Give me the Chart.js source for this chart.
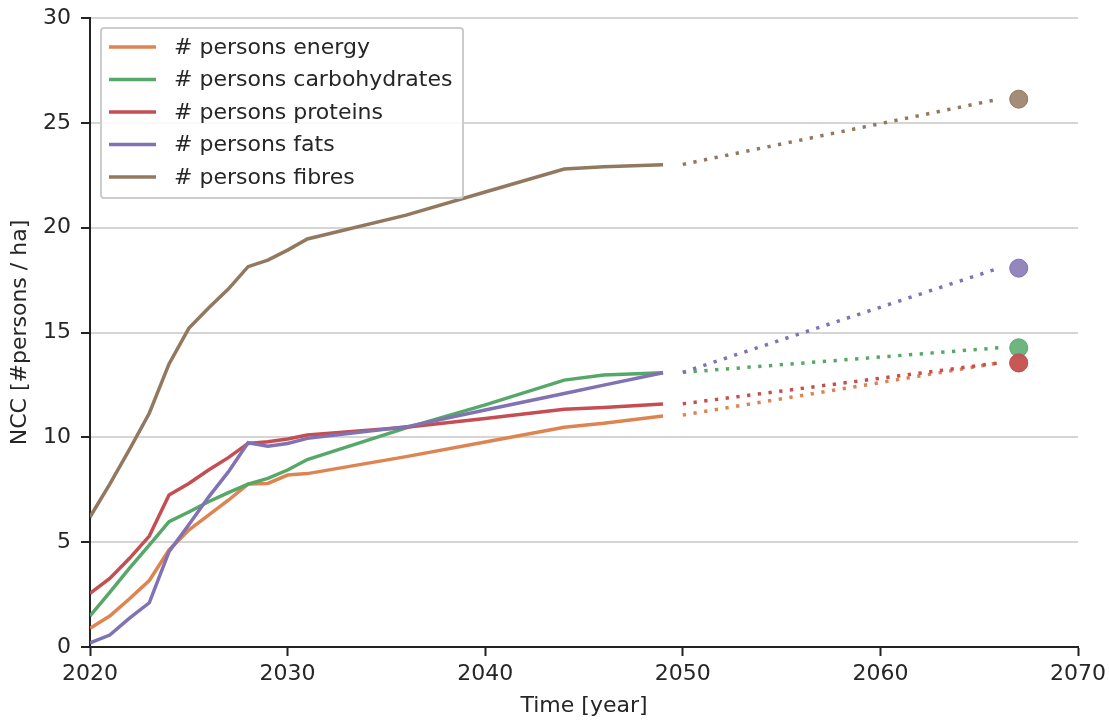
<!DOCTYPE html>
<html>
<head>
<meta charset="utf-8">
<script src="https://cdn.jsdelivr.net/npm/chart.js@4/dist/chart.umd.min.js"></script>
<style>
  html, body { margin: 0; padding: 0; background: #fff; }
  #wrap { width: 1109px; height: 720px; }
</style>
</head>
<body>
<div id="wrap"><canvas id="chart1" width="1109" height="720"></canvas></div>
<script>
// observed years (solid lines)
const years = [2020, 2021, 2022, 2023, 2024, 2025, 2026, 2027, 2028, 2029, 2030, 2031, 2036, 2040, 2044, 2046, 2049];

const energy   = [0.89, 1.48, 2.30, 3.17, 4.63, 5.58, 6.29, 7.00, 7.77, 7.80, 8.20, 8.27, 9.08, 9.78, 10.48, 10.67, 11.02];
const carbs    = [1.48, 2.60, 3.76, 4.86, 5.98, 6.44, 6.93, 7.36, 7.77, 8.04, 8.44, 8.94, 10.45, 11.55, 12.73, 12.97, 13.08];
const proteins = [2.56, 3.27, 4.23, 5.29, 7.25, 7.80, 8.44, 9.03, 9.71, 9.79, 9.92, 10.11, 10.48, 10.90, 11.34, 11.42, 11.59];
const fats     = [0.20, 0.57, 1.38, 2.11, 4.55, 5.83, 7.15, 8.35, 9.74, 9.58, 9.71, 9.95, 10.50, 11.30, 12.09, 12.49, 13.08];
const fibres   = [6.20, 7.77, 9.43, 11.15, 13.50, 15.20, 16.17, 17.07, 18.14, 18.45, 18.93, 19.46, 20.60, 21.70, 22.80, 22.90, 23.00];

// projection (dotted) and end markers
const projYears = [2050, 2066];
const projEnergy   = [11.06, 13.55];
const projCarbs    = [13.10, 14.27];
const projProteins = [11.60, 13.55];
const projFats     = [13.10, 18.07];
const projFibres   = [23.02, 26.13];

const markerYear = 2067;
const markerValues = [13.55, 14.27, 13.55, 18.07, 26.13];

const labels = ['# persons energy', '# persons carbohydrates', '# persons proteins', '# persons fats', '# persons fibres'];
const colors = ['#DD8452', '#55A868', '#C44E52', '#8172B3', '#937860'];
const markerColors = ['rgba(221,132,82,0.85)', 'rgba(85,168,104,0.85)', 'rgba(196,78,82,0.85)', 'rgba(129,114,179,0.85)', 'rgba(147,120,96,0.85)'];

const series = [energy, carbs, proteins, fats, fibres];
const projSeries = [projEnergy, projCarbs, projProteins, projFats, projFibres];

const FONT = 'DejaVu Sans';
const TEXT = '#262626';

function pts(xs, ys) {
  return xs.map((x, i) => ({ x: x, y: ys[i] }));
}

const datasets = [];
series.forEach((s, i) => {
  datasets.push({
    label: labels[i],
    data: pts(years, s),
    borderColor: colors[i],
    borderWidth: 3.5,
    pointRadius: 0,
    fill: false,
    tension: 0,
    inLegend: true,
    order: 50 - i
  });
});
projSeries.forEach((s, i) => {
  datasets.push({
    label: labels[i] + ' (projection)',
    data: pts(projYears, s),
    borderColor: colors[i],
    borderWidth: 3.5,
    borderDash: [3.3, 7.5],
    borderCapStyle: 'butt',
    pointRadius: 0,
    fill: false,
    order: 40 - i
  });
});
markerValues.forEach((v, i) => {
  datasets.push({
    label: labels[i] + ' (marker)',
    data: [{ x: markerYear, y: v }],
    showLine: false,
    pointRadius: 9,
    pointBorderWidth: 1,
    pointBackgroundColor: markerColors[i],
    pointBorderColor: colors[i],
    order: 30 - i
  });
});

// legend drawn inside the plot, matplotlib style
const insideLegend = {
  id: 'insideLegend',
  afterDraw(chart) {
    const ctx = chart.ctx;
    const x0 = 101, y0 = 28, w = 362, h = 170;
    ctx.save();
    ctx.fillStyle = 'rgba(255,255,255,0.85)';
    ctx.strokeStyle = '#cccccc';
    ctx.lineWidth = 2;
    ctx.beginPath();
    ctx.roundRect(x0, y0, w, h, 3);
    ctx.fill();
    ctx.stroke();
    const items = chart.data.datasets.filter(d => d.inLegend);
    ctx.font = '22px "' + FONT + '"';
    ctx.textBaseline = 'middle';
    ctx.textAlign = 'left';
    items.forEach((d, i) => {
      const y = 47 + i * 32.5;
      ctx.strokeStyle = d.borderColor;
      ctx.lineWidth = 3.5;
      ctx.beginPath();
      ctx.moveTo(109, y);
      ctx.lineTo(156, y);
      ctx.stroke();
      ctx.fillStyle = TEXT;
      ctx.fillText(d.label, 174, y + 1);
    });
    ctx.restore();
  }
};

const ctx1 = document.getElementById('chart1').getContext('2d');
const myChart1 = new Chart(ctx1, {
  type: 'line',
  data: { datasets: datasets },
  options: {
    responsive: false,
    animation: false,
    layout: { padding: { left: 0, top: 18, right: 31, bottom: 0 } },
    plugins: {
      legend: { display: false },
      tooltip: { enabled: false }
    },
    scales: {
      x: {
        type: 'linear',
        min: 2020,
        max: 2070,
        afterFit: (s) => { s.height = 73; s.paddingLeft = 0; s.paddingRight = 0; },
        ticks: {
          stepSize: 10,
          color: TEXT,
          padding: 5,
          font: { family: FONT, size: 22 },
          callback: (v) => String(v)
        },
        grid: {
          drawOnChartArea: false,
          drawTicks: true,
          tickLength: 9,
          tickColor: '#222',
          tickWidth: 2
        },
        border: { color: '#222', width: 2 },
        title: {
          display: true,
          text: 'Time [year]',
          color: TEXT,
          font: { family: FONT, size: 22 },
          padding: { top: 0, bottom: 1 }
        }
      },
      y: {
        min: 0,
        max: 30,
        afterFit: (s) => { s.width = 90; s.paddingTop = 0; s.paddingBottom = 0; },
        ticks: {
          stepSize: 5,
          color: TEXT,
          padding: 10,
          font: { family: FONT, size: 22 }
        },
        grid: {
          color: '#d5d5d5',
          lineWidth: 2,
          tickLength: 9,
          tickColor: '#222',
          tickWidth: 2
        },
        border: { color: '#222', width: 2 },
        title: {
          display: true,
          text: 'NCC [#persons / ha]',
          color: TEXT,
          font: { family: FONT, size: 22 },
          padding: { top: 7, bottom: 0 }
        }
      }
    }
  },
  plugins: [insideLegend]
});
</script>
</body>
</html>
